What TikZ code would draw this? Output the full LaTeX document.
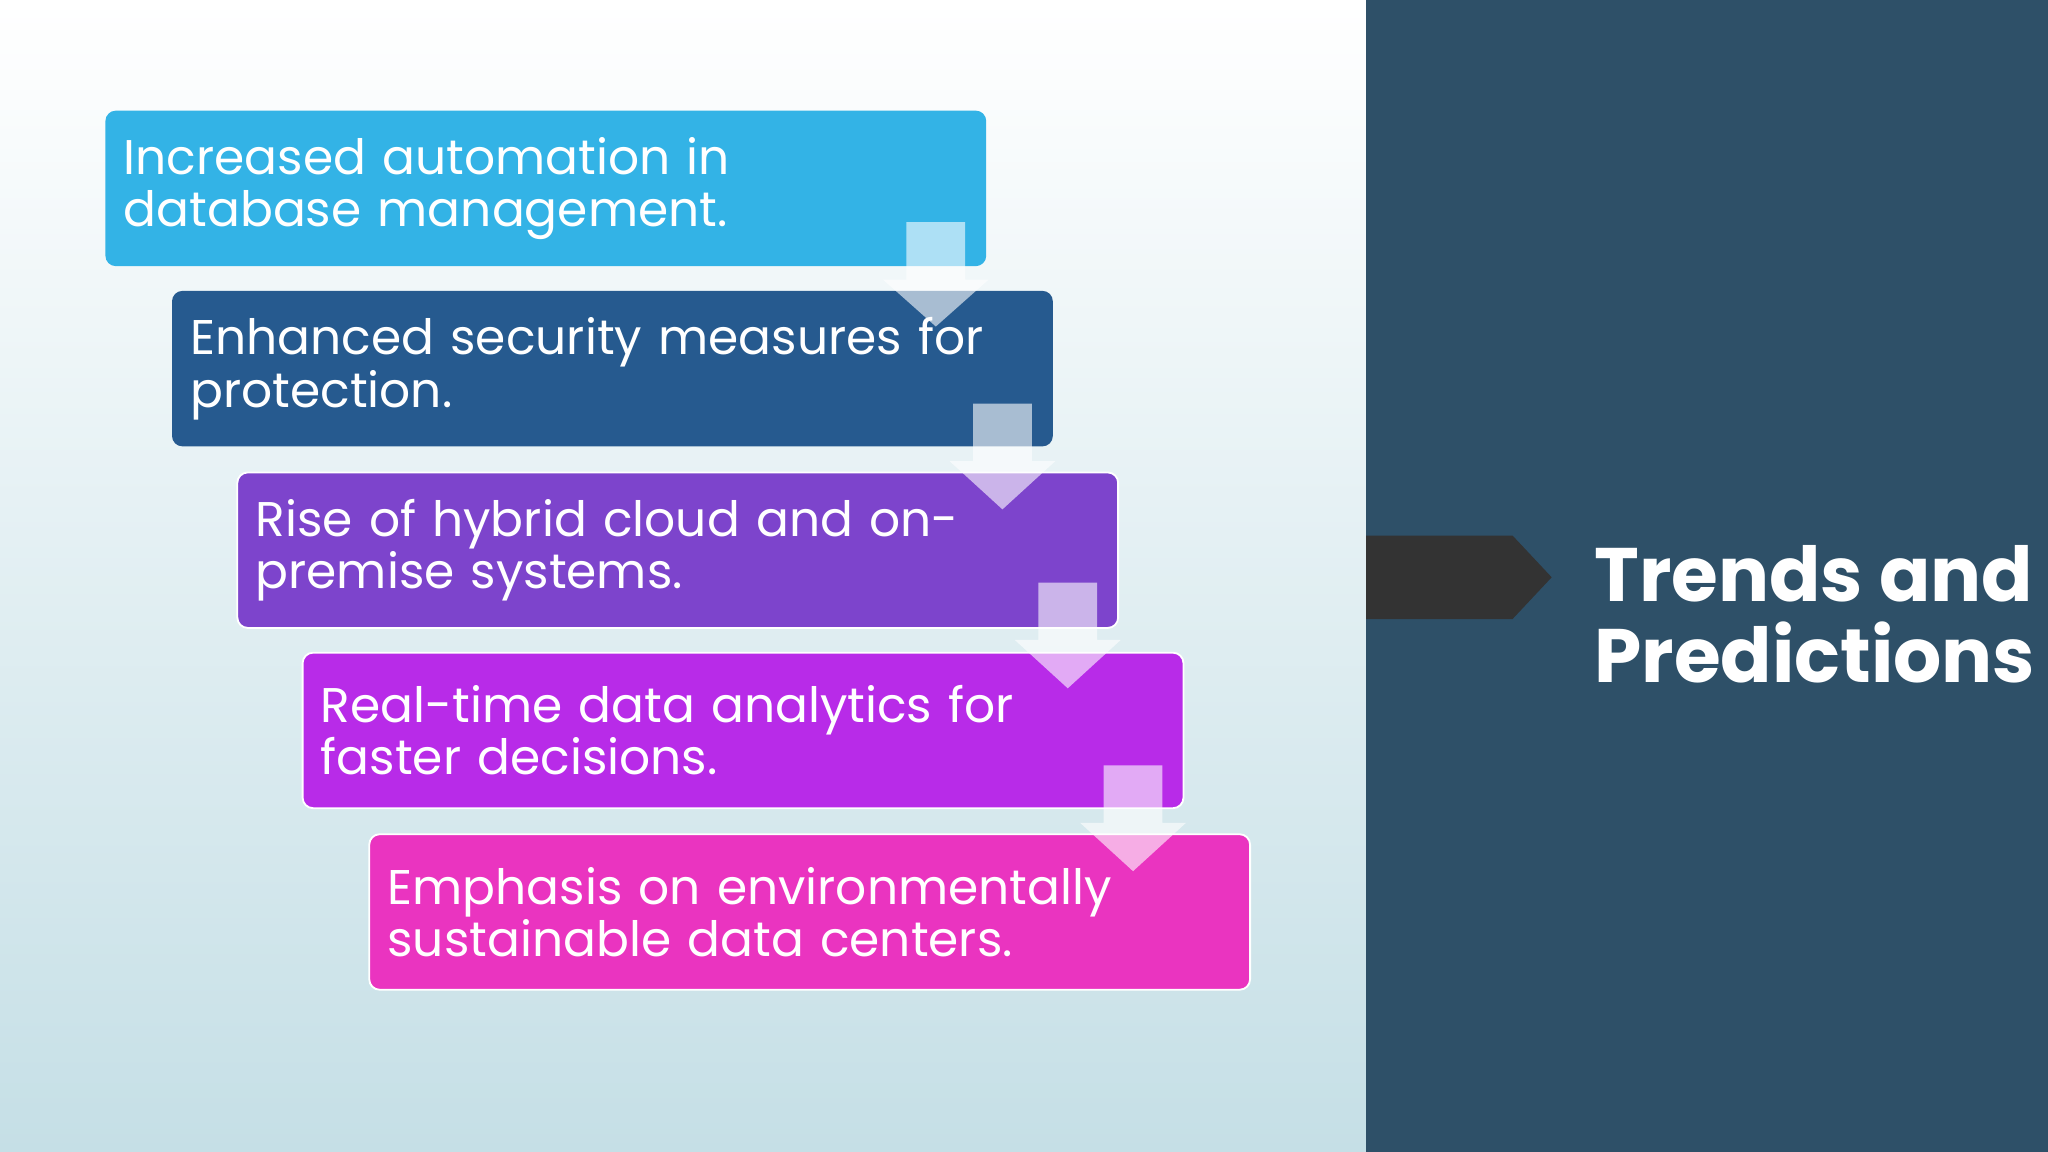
\documentclass[tikz,border=0pt]{standalone}
\usepackage{fontspec}
\setmainfont{Poppins}
\definecolor{bgbot}{RGB}{197,223,230}
\definecolor{panel}{RGB}{46,80,104}
\definecolor{chevc}{RGB}{51,51,51}
\definecolor{c1}{RGB}{51,179,230}
\definecolor{c2}{RGB}{38,90,143}
\definecolor{c3}{RGB}{125,68,204}
\definecolor{c4}{RGB}{184,43,232}
\definecolor{c5}{RGB}{234,52,192}
\begin{document}
\begin{tikzpicture}[x=0.01cm,y=-0.01cm,
  box/.style={anchor=north west,minimum width=6.74cm,minimum height=1.19cm,text width=6.46cm,inner xsep=0.14cm,inner ysep=0pt,align=left,rounded corners=0.08cm,text=white,font=\fontsize{10.6}{11.4}\selectfont},
  dnarrow/.style={fill=white,fill opacity=0.6,draw=none}]
\useasboundingbox (0,0) rectangle (1568,882);
\shade[bottom color=bgbot,top color=white] (0,0) rectangle (1046,882);
\fill[panel] (1046,0) rectangle (1568,882);
\fill[chevc] (1046,410) -- (1158,410) -- (1188,442) -- (1158,474) -- (1046,474) -- cycle;
\node[anchor=west,text=white,align=left,inner sep=0pt,font=\bfseries\fontsize{16.5}{17.6}\selectfont] (title) at (1220,470) {Trends and\\Predictions};
\node[box,fill=c1] (b1) at (80,84) {Increased automation in database management.};
\node[box,fill=c2] (b2) at (131,222) {Enhanced security measures for protection.};
\node[box,draw=white,fill=c3] (b3) at (181,361) {Rise of hybrid cloud and on-premise systems.};
\node[box,draw=white,fill=c4] (b4) at (231,499) {Real-time data analytics for faster decisions.};
\node[box,draw=white,fill=c5] (b5) at (282,638) {Emphasis on environmentally sustainable data centers.};
\foreach \x/\y/\t in {694/170/250,745/309/390,795/446/527,845/586/667}{
  \fill[dnarrow] (\x,\y) -- (\x+45,\y) -- (\x+45,\y+44) -- (\x+63,\y+44) -- (\x+22.5,\t) -- (\x-18,\y+44) -- (\x,\y+44) -- cycle;
}
\end{tikzpicture}
\end{document}
